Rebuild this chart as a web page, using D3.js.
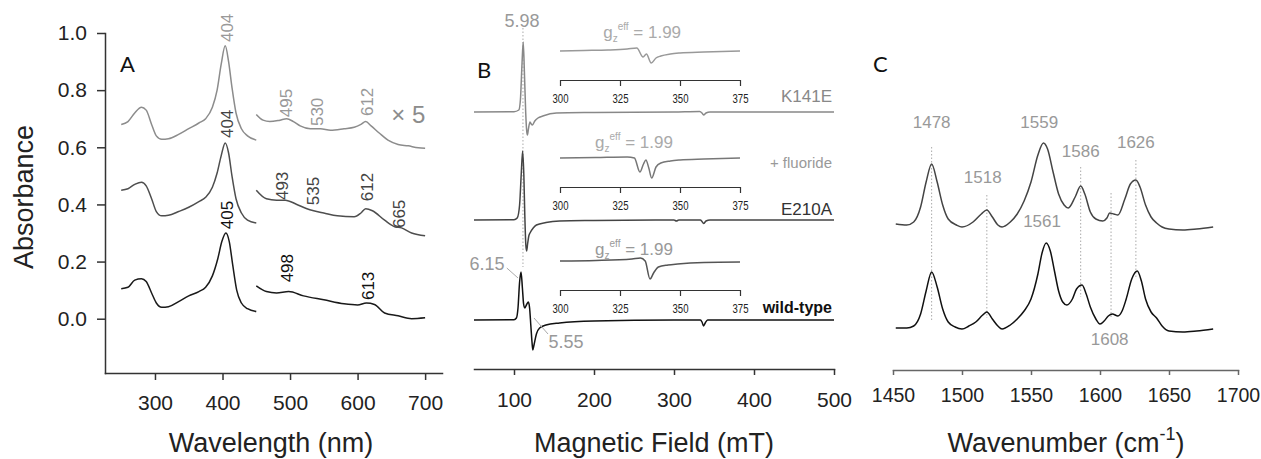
<!DOCTYPE html>
<html lang="en">
<head>
<meta charset="utf-8">
<title>UV-vis, EPR and resonance Raman spectra</title>
<style>
  body { margin: 0; background: #fff; }
  svg { display: block; font-family: "Liberation Sans", Arial, sans-serif; }
  .axis path, .axis line { stroke: #333; stroke-width: 1.5; }
  .axis text { fill: #222; font-size: 21px; font-family: "Liberation Sans", Arial, sans-serif; }
  .axis.light path, .axis.light line { stroke: #666; }
  .axis.light text { font-size: 19.5px; }
  .inset path, .inset line { stroke: #333; stroke-width: 1.2; }
  .inset text { fill: #222; font-size: 12px; font-family: "Liberation Sans", Arial, sans-serif; }
  .trace { fill: none; stroke-width: 1.5; stroke-linejoin: round; }
  .guide { stroke: #aaa; stroke-width: 1; stroke-dasharray: 1.5,2; }
  .leader { stroke: #aaa; stroke-width: 1; }
  .title { font-size: 27px; fill: #222; }
  .panel { font-family: Lato, "Open Sans", sans-serif; font-size: 22px; fill: #111; }
</style>
</head>
<body>
<svg id="fig" width="1261" height="459"></svg>
<script src="https://d3js.org/d3.v7.min.js"></script>
<script>

// ---------- panel A : UV-vis (nm, absorbance) ----------
var uvTicks = [300, 400, 500, 600, 700];
var absTicks = [0.0, 0.2, 0.4, 0.6, 0.8, 1.0];

var uvK141E = [[250,0.68],[260,0.69],[270,0.72],[280,0.74],[287,0.73],[295,0.68],[302,0.64],[310,0.628],[320,0.63],[335,0.645],[350,0.665],[365,0.685],[375,0.70],[385,0.74],[392,0.80],[398,0.89],[404,0.955],[409,0.90],[414,0.81],[420,0.72],[428,0.665],[437,0.64],[450,0.625]];
var uvE210A = [[250,0.45],[260,0.455],[270,0.47],[280,0.478],[287,0.465],[295,0.42],[302,0.375],[310,0.36],[320,0.362],[335,0.375],[350,0.39],[365,0.41],[375,0.425],[385,0.46],[392,0.51],[398,0.57],[404,0.615],[409,0.58],[414,0.50],[420,0.42],[428,0.37],[437,0.345],[450,0.335]];
var uvWT = [[250,0.105],[260,0.11],[270,0.135],[280,0.14],[287,0.13],[295,0.09],[302,0.055],[310,0.04],[320,0.042],[335,0.06],[350,0.08],[365,0.095],[375,0.11],[385,0.15],[393,0.21],[399,0.27],[405,0.30],[410,0.27],[415,0.19],[421,0.10],[428,0.055],[437,0.035],[450,0.025]];

// visible region, shown x 5
var visK141E = [[450,0.715],[460,0.695],[470,0.69],[485,0.695],[495,0.70],[505,0.69],[515,0.675],[530,0.665],[545,0.665],[560,0.66],[580,0.665],[595,0.67],[605,0.68],[612,0.69],[620,0.675],[632,0.65],[645,0.625],[660,0.61],[675,0.605],[690,0.598],[700,0.597]];
var visE210A = [[450,0.45],[465,0.42],[480,0.415],[493,0.415],[510,0.40],[525,0.385],[535,0.378],[550,0.37],[570,0.36],[595,0.357],[605,0.37],[612,0.385],[622,0.378],[640,0.345],[655,0.322],[665,0.318],[680,0.30],[700,0.29]];
var visWT = [[450,0.115],[465,0.095],[480,0.09],[498,0.095],[520,0.08],[550,0.066],[580,0.052],[600,0.048],[613,0.055],[625,0.05],[640,0.02],[660,0.01],[680,0.0],[700,0.003]];

var uvLabels = [
  {text:"404", nm:406, a:1.018, s:"k"}, {text:"495", nm:494, a:0.755, s:"k"},
  {text:"530", nm:540, a:0.724, s:"k"}, {text:"612", nm:614, a:0.759, s:"k"},
  {text:"404", nm:406, a:0.682, s:"e"}, {text:"493", nm:488, a:0.465, s:"e"},
  {text:"535", nm:534, a:0.447, s:"e"}, {text:"612", nm:614, a:0.461, s:"e"},
  {text:"665", nm:661, a:0.367, s:"e"}, {text:"405", nm:406, a:0.363, s:"w"},
  {text:"498", nm:495, a:0.177, s:"w"}, {text:"613", nm:615, a:0.115, s:"w"}
];

// ---------- panel B : EPR (mT, signal relative to own baseline) ----------
var fieldTicks = [100, 200, 300, 400, 500];
var insetTicks = [300, 325, 350, 375];

var eprK141E = [[50,0],[100,0.003],[106,0.02],[108,0.12],[110,0.48],[111.5,0.70],[113,0.40],[114.6,0],[116,-0.2],[116.8,-0.23],[118,-0.17],[120,-0.10],[121.5,-0.12],[123,-0.13],[126,-0.09],[130,-0.06],[136,-0.04],[153,-0.01],[200,-0.005],[300,0],[332,0.005],[335,-0.01],[337,-0.03],[340,-0.01],[345,0],[500,0]];
var eprE210A = [[50,0],[100,0.003],[104,0.02],[107,0.15],[109,0.45],[110.8,0.69],[112.3,0.45],[113.5,0.05],[114.8,-0.25],[115.8,-0.31],[117,-0.24],[118.5,-0.16],[120,-0.13],[124,-0.08],[128,-0.05],[140,-0.025],[157,-0.01],[200,-0.005],[300,0],[303,-0.01],[306,0],[333,0],[335,-0.015],[337,-0.035],[340,-0.01],[345,0],[500,0]];
var eprWT = [[50,0],[100,0.003],[103,0.02],[105,0.12],[107,0.38],[108.8,0.48],[110.5,0.32],[112,0.16],[113.5,0.12],[115.5,0.15],[118,0.18],[119.5,0.12],[121,-0.05],[122.5,-0.22],[123.5,-0.30],[125,-0.25],[128,-0.14],[132,-0.08],[140,-0.05],[157,-0.03],[200,-0.01],[300,0],[333,0],[335,-0.02],[337,-0.06],[339,-0.03],[342,0],[500,0]];

var insetK141E = [[300,0],[310,0.005],[320,0.01],[328,0.02],[332,0.03],[334.6,-0.06],[336,-0.03],[338,-0.12],[340,-0.07],[342,-0.05],[346,-0.03],[350,-0.02],[360,-0.01],[375,0]];
var insetFluoride = [[300,0],[315,0.005],[328,0.01],[331,0],[333.3,-0.14],[334.8,-0.06],[335.8,-0.02],[337,-0.1],[338.2,-0.2],[340,-0.09],[342,-0.05],[346,-0.03],[350,-0.02],[360,-0.01],[375,0]];
var insetWT = [[300,0],[315,0.005],[330,0.02],[333.5,0.03],[335.5,0],[337.5,-0.18],[339,-0.12],[341,-0.06],[345,-0.04],[349,-0.03],[360,-0.015],[375,-0.01]];

var sampleNames = ["K141E", "+ fluoride", "E210A", "wild-type"];

// ---------- panel C : resonance Raman (cm-1, intensity) ----------
var wnTicks = [1450, 1500, 1550, 1600, 1650, 1700];

var rrMutant = [[1452,0.03],[1460,0.02],[1465,0.05],[1470,0.2],[1474,0.45],[1478,0.63],[1482,0.45],[1486,0.22],[1490,0.08],[1496,0.02],[1500,0],[1508,0.05],[1514,0.13],[1518,0.17],[1522,0.10],[1526,0.02],[1529,0],[1535,0.05],[1540,0.13],[1545,0.26],[1550,0.45],[1555,0.72],[1559,0.84],[1562,0.78],[1566,0.55],[1570,0.33],[1574,0.22],[1577,0.19],[1582,0.30],[1586,0.41],[1589,0.33],[1593,0.15],[1597,0.08],[1602,0.06],[1605,0.09],[1607,0.14],[1610,0.13],[1613,0.12],[1618,0.28],[1622,0.43],[1626,0.47],[1629,0.40],[1633,0.22],[1637,0.10],[1641,0.04],[1645,0],[1650,-0.02],[1660,-0.03],[1670,-0.02],[1682,0]];
var rrWT = [[1452,0.01],[1460,0.01],[1465,0.03],[1470,0.15],[1474,0.38],[1478,0.57],[1482,0.42],[1486,0.20],[1490,0.07],[1495,0.02],[1500,0],[1505,0.03],[1510,0.07],[1515,0.14],[1518,0.17],[1522,0.10],[1526,0.03],[1529,0],[1535,0.04],[1540,0.10],[1545,0.18],[1550,0.30],[1555,0.55],[1558,0.76],[1561,0.86],[1564,0.78],[1567,0.58],[1570,0.38],[1573,0.27],[1576,0.24],[1580,0.30],[1583,0.40],[1587,0.44],[1590,0.35],[1593,0.22],[1597,0.10],[1600,0.05],[1603,0.08],[1606,0.13],[1609,0.15],[1613,0.13],[1616,0.18],[1619,0.30],[1623,0.50],[1627,0.58],[1630,0.48],[1633,0.30],[1637,0.17],[1641,0.11],[1645,0.03],[1650,-0.02],[1660,-0.03],[1670,-0.02],[1682,0]];

var rrLabels = [
  {text:"1478", wn:1478, v:2.01}, {text:"1518", wn:1515, v:1.46},
  {text:"1559", wn:1556, v:2.01}, {text:"1586", wn:1586, v:1.72},
  {text:"1626", wn:1626, v:1.81}, {text:"1561", wn:1558, v:1.02},
  {text:"1608", wn:1607, v:-0.16}
];
// guide lines: wavenumber, top, bottom (intensity units)
var rrGuides = [[1478,1.82,0.09],[1518,1.34,0.11],[1586,1.62,0.32],[1608,1.36,0.12],[1626,1.69,0.52]];

// ====================================================================
var svg = d3.select("#fig");
var tone = {k:"#8c8c8c", e:"#4e4e4e", w:"#1a1a1a"};

function axisStyle(g) { g.selectAll(".domain").attr("stroke-linecap", "square"); }

// ---------- A ----------
var xA = d3.scaleLinear().domain([226, 725]).range([105, 442]);
var yA = d3.scaleLinear().domain([-0.19, 1.0]).range([373, 33]);
var lineA = d3.line().x(function(d) { return xA(d[0]); }).y(function(d) { return yA(d[1]); }).curve(d3.curveMonotoneX);

svg.append("g").attr("class", "axis").attr("transform", "translate(0,373)")
  .call(d3.axisBottom(xA).tickValues(uvTicks).tickSizeInner(7).tickSizeOuter(0).tickPadding(15)).call(axisStyle);
svg.append("g").attr("class", "axis").attr("transform", "translate(105,0)")
  .call(d3.axisLeft(yA).tickValues(absTicks).tickFormat(d3.format(".1f")).tickSizeInner(8).tickSizeOuter(0).tickPadding(10)).call(axisStyle);

[[uvK141E,"k"],[uvE210A,"e"],[uvWT,"w"],[visK141E,"k"],[visE210A,"e"],[visWT,"w"]].forEach(function(t, i) {
  svg.append("path").attr("class", "trace").attr("d", lineA(t[0])).attr("stroke", tone[t[1]])
    .attr("stroke-width", i === 5 ? 2 : 1.5);
});

svg.selectAll(".uvlab").data(uvLabels).enter().append("text")
  .attr("transform", function(d) { return "translate(" + xA(d.nm) + "," + yA(d.a) + ") rotate(-90)"; })
  .attr("text-anchor", "middle").attr("dy", "0.35em")
  .attr("font-size", 17).attr("fill", function(d) { return d.s === "k" ? "#999" : d.s === "e" ? "#444" : "#111"; })
  .text(function(d) { return d.text; });

svg.append("text").attr("x", xA(675)).attr("y", yA(0.685)).attr("text-anchor", "middle")
  .attr("font-size", 24).attr("fill", "#8c8c8c").text("\u00d7 5");

svg.append("text").attr("class", "title").attr("x", 271).attr("y", 452).attr("text-anchor", "middle").text("Wavelength (nm)");
svg.append("text").attr("class", "title").attr("transform", "translate(33,197) rotate(-90)").attr("text-anchor", "middle").text("Absorbance");
svg.append("text").attr("class", "panel").attr("x", 120).attr("y", 72).text("A");

// ---------- B ----------
var xB = d3.scaleLinear().domain([50, 500]).range([474, 834]);
var yB = d3.scaleLinear().domain([-0.49, 3.2]).range([369, 0]);
function lineB(off) {
  return d3.line().x(function(d) { return xB(d[0]); }).y(function(d) { return yB(d[1] + off); }).curve(d3.curveMonotoneX);
}

svg.append("g").attr("class", "axis").attr("transform", "translate(0,369)")
  .call(d3.axisBottom(xB).tickValues(fieldTicks).tickSizeInner(6).tickSizeOuter(0).tickPadding(17)).call(axisStyle);

svg.append("line").attr("class", "guide")
  .attr("x1", xB(111.2)).attr("x2", xB(111.2)).attr("y1", yB(2.92)).attr("y2", yB(0.53));

[[eprK141E, 2.08, "#888"], [eprE210A, 1.0, "#444"], [eprWT, 0, "#111"]].forEach(function(t) {
  svg.append("path").attr("class", "trace").attr("d", lineB(t[1])(t[0])).attr("stroke", t[2]);
});

var xI = d3.scaleLinear().domain([300, 375]).range([560, 740]);
var insets = [
  {data: insetK141E, base: 2.69, axis: 2.40, lab: 2.82, start: 318, color: "#999", lc: "#aaa"},
  {data: insetFluoride, base: 1.62, axis: 1.33, lab: 1.72, start: 314.6, color: "#777", lc: "#aaa"},
  {data: insetWT, base: 0.59, axis: 0.30, lab: 0.65, start: 314.6, color: "#555", lc: "#999"}
];
insets.forEach(function(ins) {
  var ln = d3.line().x(function(d) { return xI(d[0]); }).y(function(d) { return yB(d[1] + ins.base); }).curve(d3.curveMonotoneX);
  svg.append("path").attr("class", "trace").attr("stroke-width", 1.2).attr("d", ln(ins.data)).attr("stroke", ins.color);
  var g = svg.append("g").attr("class", "inset").attr("transform", "translate(0," + yB(ins.axis) + ")")
    .call(d3.axisBottom(xI).tickValues(insetTicks).tickSizeInner(6).tickSizeOuter(0).tickPadding(8));
  g.selectAll("text").attr("textLength", 16).attr("lengthAdjust", "spacingAndGlyphs");
  var t = svg.append("text").attr("x", xI(ins.start)).attr("y", yB(ins.lab)).attr("fill", ins.lc).attr("font-size", 17);
  t.append("tspan").text("g");
  t.append("tspan").attr("font-size", 10).attr("dy", 4).text("z");
  t.append("tspan").attr("font-size", 10).attr("dy", -12).text("eff");
  t.append("tspan").attr("dy", 8).text(" = 1.99");
});

svg.append("text").attr("x", xB(110)).attr("y", yB(2.93)).attr("text-anchor", "middle").attr("font-size", 18).attr("fill", "#999").text("5.98");
svg.append("text").attr("x", xB(66.25)).attr("y", yB(0.50)).attr("text-anchor", "middle").attr("font-size", 18).attr("fill", "#999").text("6.15");
svg.append("text").attr("x", xB(165)).attr("y", yB(-0.28)).attr("text-anchor", "middle").attr("font-size", 18).attr("fill", "#999").text("5.55");
svg.append("line").attr("class", "leader").attr("x1", xB(91)).attr("y1", yB(0.52)).attr("x2", xB(105)).attr("y2", yB(0.42));
svg.append("line").attr("class", "leader").attr("x1", xB(125)).attr("y1", yB(0.02)).attr("x2", xB(142.5)).attr("y2", yB(-0.14));

var nameY = [2.18, 1.52, 1.05, 0.07];
var nameStyle = [["#888", 17, "normal"], ["#999", 15, "normal"], ["#333", 17, "normal"], ["#111", 16, "bold"]];
sampleNames.forEach(function(n, i) {
  svg.append("text").attr("x", xB(497.5)).attr("y", yB(nameY[i])).attr("text-anchor", "end")
    .attr("fill", nameStyle[i][0]).attr("font-size", nameStyle[i][1]).attr("font-weight", nameStyle[i][2]).text(n);
});

svg.append("text").attr("class", "title").attr("x", 654).attr("y", 452).attr("text-anchor", "middle").text("Magnetic Field (mT)");
svg.append("text").attr("class", "panel").attr("x", 477).attr("y", 78).text("B");

// ---------- C ----------
var xC = d3.scaleLinear().domain([1450, 1700]).range([893, 1238]);
var yC = d3.scaleLinear().domain([-0.42, 3.29]).range([371, 0]);
function lineC(off) {
  return d3.line().x(function(d) { return xC(d[0]); }).y(function(d) { return yC(d[1] + off); }).curve(d3.curveMonotoneX);
}

svg.append("g").attr("class", "axis light").attr("transform", "translate(0,370)")
  .call(d3.axisBottom(xC).tickValues(wnTicks).tickFormat(d3.format("d")).tickSizeInner(5).tickSizeOuter(0).tickPadding(13)).call(axisStyle);

svg.selectAll(".rrguide").data(rrGuides).enter().append("line").attr("class", "guide")
  .attr("x1", function(d) { return xC(d[0]); }).attr("x2", function(d) { return xC(d[0]); })
  .attr("y1", function(d) { return yC(d[1]); }).attr("y2", function(d) { return yC(d[2]); });

svg.append("path").attr("class", "trace").attr("d", lineC(1.02)(rrMutant)).attr("stroke", "#444");
svg.append("path").attr("class", "trace").attr("d", lineC(0)(rrWT)).attr("stroke", "#111");

svg.selectAll(".rrlab").data(rrLabels).enter().append("text")
  .attr("x", function(d) { return xC(d.wn); }).attr("y", function(d) { return yC(d.v); })
  .attr("text-anchor", "middle").attr("font-size", 17).attr("fill", "#999")
  .text(function(d) { return d.text; });

var tc = svg.append("text").attr("class", "title").attr("x", 1066).attr("y", 452).attr("text-anchor", "middle");
tc.append("tspan").text("Wavenumber (cm");
tc.append("tspan").attr("font-size", 18).attr("dy", -12).text("-1");
tc.append("tspan").attr("dy", 12).text(")");
svg.append("text").attr("class", "panel").attr("x", 873).attr("y", 72).text("C");

</script>
</body>
</html>
